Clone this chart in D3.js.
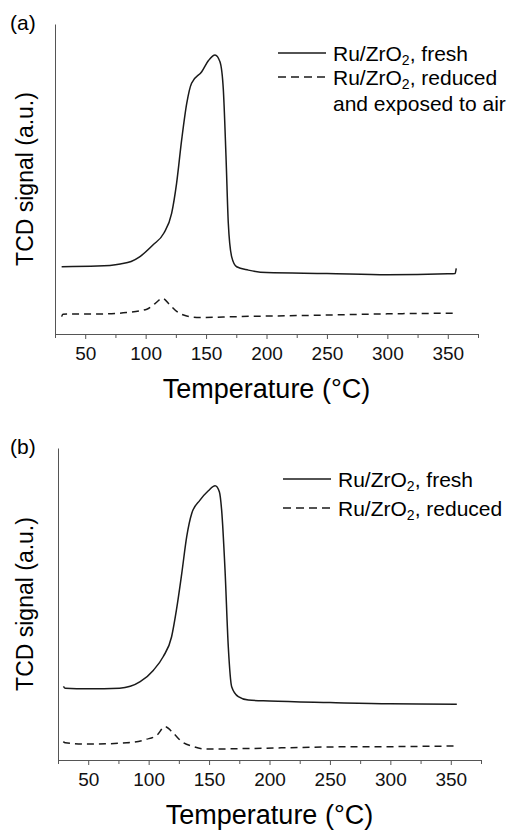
<!DOCTYPE html>
<html lang="en">
<head>
	<meta charset="UTF-8">
	<title>TPR profiles</title>
	<script src="https://cdn.jsdelivr.net/npm/d3@7"></script>
	<style>
		html,body{
			margin:0;
			padding:0;
			background:#fff;
		}
		svg{
			display:block;
			font-family:"Liberation Sans",Arial,sans-serif;
		}
		.curve{
			fill:none;
			stroke:#1a1a1a;
			stroke-width:1.5;
		}
		.dashed{
			stroke-dasharray:7,5;
		}
		.axis path,.axis line{
			stroke:#555;
		}
		.axis text{
			font-family:"Liberation Sans",Arial,sans-serif;
			font-size:19px;
			fill:#111;
		}
	</style>
</head>
<body>
	<svg id="svg" width="512" height="830"></svg>
	<script>
		// x axis ticks (temperature, °C)
		var xDomain = [25,375];
		var majorTicks = [50,100,150,200,250,300,350];
		var minorTicks = [25,75,125,175,225,275,325,375];

		// (a) fresh sample
		var tempA_fresh = [30.5,60,79,88,95,106,115,121.5,125.6,129.8,134,138,146.4,152,157.4,161.5,164.3,166.5,168.4,171.2,175.3,185,200,250,300,350,356,357];
		var sigA_fresh = [21.7,21.9,22.6,23.4,24.9,28.7,32.5,38.9,48.6,62.6,74.4,80.9,84.6,88.2,90.0,87.8,78.7,57.2,35.7,24.9,21.7,20.6,19.8,19.5,19.1,19.4,19.5,21.2];
		// (a) reduced and exposed to air
		var tempA_air = [30.5,31.5,68,84,101,108,114,120,126,134,145,175,250,300,355];
		var sigA_air = [5.6,6.4,6.5,6.9,8.0,9.9,11.5,9.4,7.2,5.8,5.3,5.6,6.1,6.5,6.7];

		// (b) fresh sample
		var tempB_fresh = [29.5,31,50,76,93,104,112,119,123,127.4,131.5,135.7,142.5,149.4,155,158.5,160.4,163.2,165.9,168.7,174.2,182.5,200,250,300,355];
		var sigB_fresh = [23.6,23.0,22.8,23.0,25.1,28.8,33.1,39.5,48.1,59.8,71.6,79.1,83.3,86.3,87.9,86.0,80.1,60.9,36.3,23.5,20.3,19.2,18.9,18.4,18.0,17.9];
		// (b) reduced
		var tempB_red = [29.4,31,50,82,98,107,113.5,120.4,127.4,137,148,170,211,253,308,356];
		var sigB_red = [5.9,5.5,5.1,5.5,6.6,8.0,10.7,8.6,5.9,4.3,3.5,3.6,3.9,4.2,4.3,4.5];

		var legendA = [
			{pre:"Ru/ZrO",post:", fresh",dashed:false},
			{pre:"Ru/ZrO",post:", reduced",dashed:true,extra:"and exposed to air"}
		];
		var legendB = [
			{pre:"Ru/ZrO",post:", fresh",dashed:false},
			{pre:"Ru/ZrO",post:", reduced",dashed:true}
		];

		function zip(t,s){
			return t.map((d,i)=>{
				return {t:d,v:s[i]};
			});
		}

		var svg = d3.select("#svg");

		function drawPanel(p){
			var g = svg.append("g");
			var xscale = d3.scaleLinear().domain(xDomain).range([p.left,p.right]);
			var yscale = d3.scaleLinear().domain([0,100]).range([p.bottom,p.top]);

			g.append("g").attr("class","axis")
				.attr("transform","translate(0,"+p.bottom+")")
				.call(d3.axisBottom(xscale).tickValues(minorTicks).tickSize(4).tickSizeOuter(0).tickFormat(""));
			g.append("g").attr("class","axis")
				.attr("transform","translate(0,"+p.bottom+")")
				.call(d3.axisBottom(xscale).tickValues(majorTicks).tickSize(5).tickSizeOuter(0).tickPadding(8));
			g.append("g").attr("class","axis")
				.attr("transform","translate("+p.left+",0)")
				.call(d3.axisLeft(yscale).tickValues([]).tickSizeOuter(0));

			var line = d3.line()
				.x((d)=>{return xscale(d.t)})
				.y((d)=>{return yscale(d.v)})
				.curve(d3.curveMonotoneX);

			g.append("path").attr("class","curve")
				.attr("d",line(p.solid));
			g.append("path").attr("class","curve dashed")
				.attr("d",line(p.dashed));

			g.append("text")
				.attr("x",10).attr("y",p.top+6)
				.style("font-size","21px")
				.text(p.tag);

			g.append("text")
				.attr("transform","translate(33,"+((p.top+p.bottom)/2)+") rotate(-90)")
				.attr("text-anchor","middle")
				.style("font-size","23px")
				.text("TCD signal (a.u.)");

			g.append("text")
				.attr("x",(p.left+p.right)/2).attr("y",p.bottom+64)
				.attr("text-anchor","middle")
				.style("font-size","27px")
				.text("Temperature (°C)");

			// legend
			var lg = g.append("g");
			p.legend.forEach((d,i)=>{
				var by = p.legY + i*p.legStep;
				lg.append("line")
					.attr("class",d.dashed?"curve dashed":"curve")
					.attr("x1",p.legX).attr("x2",p.legX+48)
					.attr("y1",by-8).attr("y2",by-8)
					.style("stroke-dasharray",d.dashed?"8,5":null);
				var t = lg.append("text")
					.attr("x",p.legX+55).attr("y",by)
					.style("font-size","21px");
				t.append("tspan").text(d.pre);
				t.append("tspan").attr("dy",4).style("font-size","14px").text("2");
				t.append("tspan").attr("dy",-4).text(d.post);
				if(d.extra){
					lg.append("text")
						.attr("x",p.legX+55).attr("y",by+p.legStep+2)
						.style("font-size","21px")
						.text(d.extra);
				}
			});
		}

		drawPanel({
			tag:"(a)",left:55,right:478,top:24,bottom:334,
			solid:zip(tempA_fresh,sigA_fresh),dashed:zip(tempA_air,sigA_air),
			legend:legendA,legX:278,legY:61,legStep:24
		});
		drawPanel({
			tag:"(b)",left:58,right:481,top:448,bottom:760,
			solid:zip(tempB_fresh,sigB_fresh),dashed:zip(tempB_red,sigB_red),
			legend:legendB,legX:283,legY:487,legStep:29
		});
	</script>
</body>
</html>
